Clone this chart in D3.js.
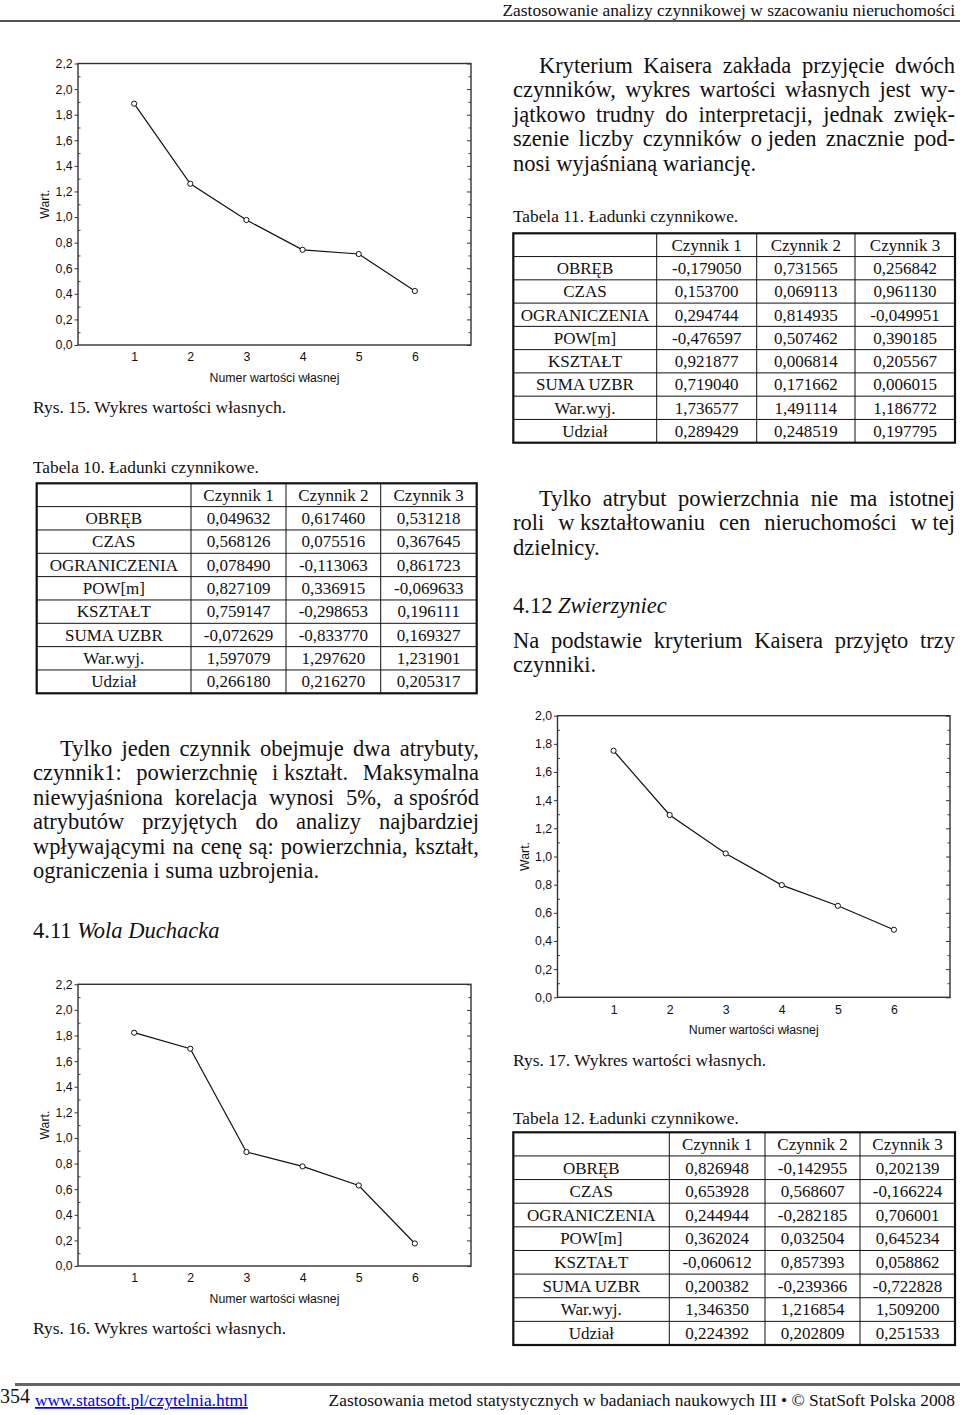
<!DOCTYPE html>
<html><head><meta charset="utf-8">
<script src="https://cdn.jsdelivr.net/npm/d3@7"></script>
<style>
html,body{margin:0;padding:0;background:#fff;}
svg{display:block;}
</style></head><body>
<svg id="page" width="960" height="1415"></svg>
<script>
// ---------------- DATA ----------------
const xCategories = [1, 2, 3, 4, 5, 6];
const eigen15 = [1.886, 1.260, 0.977, 0.744, 0.711, 0.422];
const eigen16 = [1.822, 1.697, 0.890, 0.778, 0.629, 0.176];
const eigen17 = [1.751, 1.295, 1.022, 0.797, 0.650, 0.480];
const yTicks22 = [0, 0.2, 0.4, 0.6, 0.8, 1.0, 1.2, 1.4, 1.6, 1.8, 2.0, 2.2];
const yTicks20 = [0, 0.2, 0.4, 0.6, 0.8, 1.0, 1.2, 1.4, 1.6, 1.8, 2.0];
const xTitle = "Numer wartości własnej";
const yTitle = "Wart.";

const rowLabels = ["OBRĘB", "CZAS", "OGRANICZENIA", "POW[m]", "KSZTAŁT", "SUMA UZBR", "War.wyj.", "Udział"];
const factorLabels = ["Czynnik 1", "Czynnik 2", "Czynnik 3"];
const loadings10 = [
  [0.049632, 0.617460, 0.531218],
  [0.568126, 0.075516, 0.367645],
  [0.078490, -0.113063, 0.861723],
  [0.827109, 0.336915, -0.069633],
  [0.759147, -0.298653, 0.196111],
  [-0.072629, -0.833770, 0.169327],
  [1.597079, 1.297620, 1.231901],
  [0.266180, 0.216270, 0.205317]
];
const loadings11 = [
  [-0.179050, 0.731565, 0.256842],
  [0.153700, 0.069113, 0.961130],
  [0.294744, 0.814935, -0.049951],
  [-0.476597, 0.507462, 0.390185],
  [0.921877, 0.006814, 0.205567],
  [0.719040, 0.171662, 0.006015],
  [1.736577, 1.491114, 1.186772],
  [0.289429, 0.248519, 0.197795]
];
const loadings12 = [
  [0.826948, -0.142955, 0.202139],
  [0.653928, 0.568607, -0.166224],
  [0.244944, -0.282185, 0.706001],
  [0.362024, 0.032504, 0.645234],
  [-0.060612, 0.857393, 0.058862],
  [0.200382, -0.239366, -0.722828],
  [1.346350, 1.216854, 1.509200],
  [0.224392, 0.202809, 0.251533]
];

const paraKaiser = [
  "Kryterium Kaisera zakłada przyjęcie dwóch",
  "czynników, wykres wartości własnych jest wy-",
  "jątkowo trudny do interpretacji, jednak zwięk-",
  "szenie liczby czynników o\u00a0jeden znacznie pod-",
  "nosi wyjaśnianą wariancję."
];
const paraPow = [
  "Tylko atrybut powierzchnia nie ma istotnej",
  "roli w\u00a0kształtowaniu cen nieruchomości w\u00a0tej",
  "dzielnicy."
];
const paraZw = [
  "Na podstawie kryterium Kaisera przyjęto trzy",
  "czynniki."
];
const paraJeden = [
  "Tylko jeden czynnik obejmuje dwa atrybuty,",
  "czynnik1: powierzchnię i\u00a0kształt. Maksymalna",
  "niewyjaśniona korelacja wynosi 5%, a\u00a0spośród",
  "atrybutów przyjętych do analizy najbardziej",
  "wpływającymi na cenę są: powierzchnia, kształt,",
  "ograniczenia i suma uzbrojenia."
];

// ---------------- SETUP ----------------
const serif = "'Liberation Serif','Times New Roman',Times,serif";
const sans = "'Liberation Sans',Arial,Helvetica,sans-serif";
const locale = d3.formatLocale({decimal: ",", thousands: "\u00a0", grouping: [3], currency: ["", ""], minus: "-"});
const f6 = locale.format(".6f");
const f1 = locale.format(".1f");
const svg = d3.select("#page");

// ---------------- PAGE FURNITURE ----------------
svg.append("text").attr("x", 955).attr("y", 15.5).attr("text-anchor", "end")
  .style("font-family", serif).style("font-size", "17.4px").attr("fill", "#111")
  .text("Zastosowanie analizy czynnikowej w szacowaniu nieruchomości");
svg.append("line").attr("x1", 0).attr("x2", 960).attr("y1", 21).attr("y2", 21)
  .attr("stroke", "#555").attr("stroke-width", 2);

svg.append("line").attr("x1", 15).attr("x2", 960).attr("y1", 1384.5).attr("y2", 1384.5)
  .attr("stroke", "#666").attr("stroke-width", 3);
svg.append("text").attr("x", 0).attr("y", 1403).style("font-family", serif)
  .style("font-size", "20px").attr("fill", "#111").text("354");
svg.append("text").attr("x", 35).attr("y", 1406).style("font-family", serif)
  .style("font-size", "17.4px").attr("fill", "#0000ee").style("text-decoration", "underline")
  .text("www.statsoft.pl/czytelnia.html");
svg.append("text").attr("x", 955).attr("y", 1406).attr("text-anchor", "end")
  .style("font-family", serif).style("font-size", "17.4px").attr("fill", "#111")
  .text("Zastosowania metod statystycznych w badaniach naukowych III \u2022 \u00a9 StatSoft Polska 2008");

// ---------------- TEXT HELPERS ----------------
function plain(x, y, str, size) {
  return svg.append("text").attr("x", x).attr("y", y).style("font-family", serif)
    .style("font-size", size + "px").attr("fill", "#111").text(str);
}
function justifiedLine(str, x0, x1, y, size, justify) {
  if (!justify) { plain(x0, y, str, size); return; }
  const words = str.split(" ");
  const g = svg.append("g");
  const nodes = words.map(w => g.append("text").attr("y", y).style("font-family", serif)
    .style("font-size", size + "px").attr("fill", "#111").text(w));
  const widths = nodes.map(n => n.node().getComputedTextLength());
  const total = d3.sum(widths);
  const gap = words.length > 1 ? (x1 - x0 - total) / (words.length - 1) : 0;
  let x = x0;
  nodes.forEach((n, i) => { n.attr("x", x); x += widths[i] + gap; });
}
function paragraph(lines, x0, x1, y0, lh, indent, size) {
  lines.forEach((ln, i) => {
    justifiedLine(ln, x0 + (i === 0 ? indent : 0), x1, y0 + i * lh, size, i < lines.length - 1);
  });
}
function heading(x, y, num, title, size) {
  const t = svg.append("text").attr("x", x).attr("y", y).style("font-family", serif)
    .style("font-size", size + "px").attr("fill", "#111");
  t.append("tspan").text(num + " ");
  t.append("tspan").style("font-style", "italic").text(title);
}

// ---------------- CHART ----------------
function drawChart(cfg) {
  const g = svg.append("g");
  const x = d3.scaleLinear().domain([0, 7]).range([cfg.left, cfg.right]);
  const y = d3.scaleLinear().domain([0, cfg.yMax]).range([cfg.bottom, cfg.top]);
  const majors = cfg.ticks;
  const minors = majors.slice(0, -1).map((v, i) => (v + majors[i + 1]) / 2);

  // left axis, labels
  const la = g.append("g").attr("transform", `translate(${cfg.left},0)`)
    .call(d3.axisLeft(y).tickValues(majors).tickSize(3.5).tickPadding(1.8).tickFormat(f1));
  la.select(".domain").remove();
  la.selectAll("line").attr("stroke", "#333");
  la.selectAll("text").style("font-family", sans).style("font-size", "12.3px").attr("fill", "#111");
  const lm = g.append("g").attr("transform", `translate(${cfg.left},0)`)
    .call(d3.axisLeft(y).tickValues(minors).tickSize(-2.5).tickFormat(""));
  lm.select(".domain").remove();
  lm.selectAll("line").attr("stroke", "#444");

  // right mirror ticks
  const ra = g.append("g").attr("transform", `translate(${cfg.right},0)`)
    .call(d3.axisRight(y).tickValues(majors).tickSize(-4).tickFormat(""));
  ra.select(".domain").remove();
  ra.selectAll("line").attr("stroke", "#333");
  const rm = g.append("g").attr("transform", `translate(${cfg.right},0)`)
    .call(d3.axisRight(y).tickValues(minors).tickSize(-2.5).tickFormat(""));
  rm.select(".domain").remove();
  rm.selectAll("line").attr("stroke", "#444");

  // bottom axis labels
  const ba = g.append("g").attr("transform", `translate(0,${cfg.bottom})`)
    .call(d3.axisBottom(x).tickValues(xCategories).tickSize(0).tickPadding(7.5).tickFormat(d3.format("d")));
  ba.select(".domain").remove();
  ba.selectAll("text").style("font-family", sans).style("font-size", "12.3px").attr("fill", "#111");

  // frame
  g.append("rect").attr("x", cfg.left).attr("y", cfg.top)
    .attr("width", cfg.right - cfg.left).attr("height", cfg.bottom - cfg.top)
    .attr("fill", "none").attr("stroke", "#333").attr("stroke-width", 1.4);

  // titles
  g.append("text").attr("x", (cfg.left + cfg.right) / 2).attr("y", cfg.bottom + 36.5)
    .attr("text-anchor", "middle").style("font-family", sans).style("font-size", "12.3px")
    .attr("fill", "#111").text(xTitle);
  g.append("text").attr("transform", `translate(${cfg.left - 33},${(cfg.top + cfg.bottom) / 2}) rotate(-90)`)
    .attr("text-anchor", "middle").attr("dy", "0.35em").style("font-family", sans)
    .style("font-size", "12.3px").attr("fill", "#111").text(yTitle);

  // series
  const pts = xCategories.map((c, i) => [c, cfg.values[i]]);
  g.append("path").datum(pts).attr("fill", "none").attr("stroke", "#111").attr("stroke-width", 1.2)
    .attr("d", d3.line().x(d => x(d[0])).y(d => y(d[1])));
  g.selectAll("circle.pt").data(pts).join("circle").attr("class", "pt")
    .attr("cx", d => x(d[0])).attr("cy", d => y(d[1])).attr("r", 2.6)
    .attr("fill", "#fff").attr("stroke", "#111").attr("stroke-width", 1);

  plain(cfg.capX, cfg.capY, cfg.caption, 17.5);
}

// ---------------- TABLE ----------------
function drawTable(cfg, data) {
  const g = svg.append("g");
  const nRows = rowLabels.length + 1;
  const yB = d3.scaleBand().domain(d3.range(nRows)).range([cfg.top, cfg.bottom]);
  const edges = [cfg.left, ...cfg.cols, cfg.right];
  const cx = i => (edges[i] + edges[i + 1]) / 2;

  cfg.cols.forEach(c => g.append("line").attr("x1", c).attr("x2", c).attr("y1", cfg.top).attr("y2", cfg.bottom)
    .attr("stroke", "#111").attr("stroke-width", 1));
  d3.range(1, nRows).forEach(i => g.append("line").attr("x1", cfg.left).attr("x2", cfg.right)
    .attr("y1", yB(i)).attr("y2", yB(i)).attr("stroke", "#111").attr("stroke-width", 1));
  g.append("rect").attr("x", cfg.left).attr("y", cfg.top).attr("width", cfg.right - cfg.left)
    .attr("height", cfg.bottom - cfg.top).attr("fill", "none").attr("stroke", "#111").attr("stroke-width", 2.2);

  const txt = (x, row, s) => g.append("text").attr("x", x).attr("y", yB(row) + yB.bandwidth() / 2 + 5.8)
    .attr("text-anchor", "middle").style("font-family", serif).style("font-size", "17px")
    .attr("fill", "#111").text(s);
  factorLabels.forEach((f, j) => txt(cx(j + 1), 0, f));
  rowLabels.forEach((r, i) => {
    txt(cx(0), i + 1, r);
    data[i].forEach((v, j) => txt(cx(j + 1), i + 1, f6(v)));
  });
  plain(cfg.capX, cfg.capY, cfg.caption, 17.3);
}

// ---------------- DRAW ----------------
drawChart({values: eigen15, yMax: 2.2, ticks: yTicks22, left: 78, right: 471, top: 63.5, bottom: 345,
  caption: "Rys. 15. Wykres wartości własnych.", capX: 33, capY: 412.5});
drawChart({values: eigen16, yMax: 2.2, ticks: yTicks22, left: 78, right: 471, top: 984.3, bottom: 1266,
  caption: "Rys. 16. Wykres wartości własnych.", capX: 33, capY: 1333.5});
drawChart({values: eigen17, yMax: 2.0, ticks: yTicks20, left: 557.5, right: 950, top: 715.7, bottom: 997.3,
  caption: "Rys. 17. Wykres wartości własnych.", capX: 513, capY: 1065.5});

drawTable({left: 36.7, right: 476.7, top: 483.3, bottom: 693.3, cols: [191, 286, 380.7],
  caption: "Tabela 10. Ładunki czynnikowe.", capX: 33, capY: 472.5}, loadings10);
drawTable({left: 513.3, right: 955, top: 233.3, bottom: 442.7, cols: [656.7, 756.7, 855],
  caption: "Tabela 11. Ładunki czynnikowe.", capX: 513, capY: 221.5}, loadings11);
drawTable({left: 513.3, right: 955, top: 1132.3, bottom: 1345, cols: [669.3, 765, 860],
  caption: "Tabela 12. Ładunki czynnikowe.", capX: 513, capY: 1123.5}, loadings12);

paragraph(paraKaiser, 513, 955, 73, 24.4, 26, 22.5);
paragraph(paraPow, 513, 955, 506, 24.4, 26, 22.5);
heading(513, 613, "4.12", "Zwierzyniec", 22.5);
paragraph(paraZw, 513, 955, 648, 24.4, 0, 22.5);
paragraph(paraJeden, 33, 479, 756, 24.4, 27, 22.5);
heading(33, 938, "4.11", "Wola Duchacka", 22.5);
</script>
</body></html>
